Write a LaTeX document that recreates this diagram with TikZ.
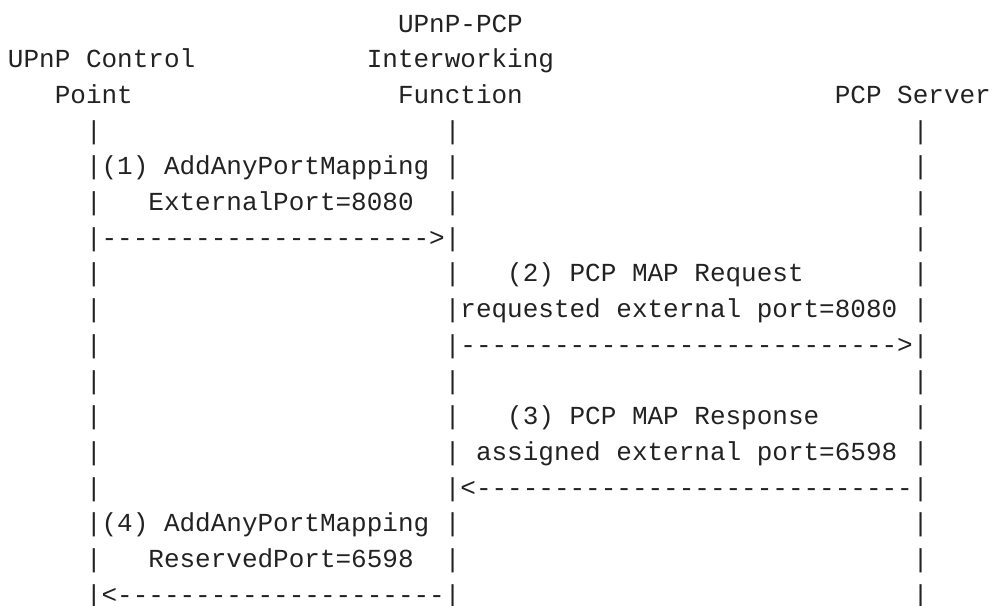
\documentclass[tikz,border=0pt]{standalone}
\usepackage{fontspec}
\setmonofont{Liberation Mono}
\definecolor{ink}{RGB}{34,34,34}
% one character cell: 15.6 wide, rows 35.67 apart (picture units are pt)
\newcommand\cellx[1]{8+#1*15.6}
\newcommand\celly[1]{-(32.3+(#1-1)*35.67)}
% \msg{name}{column}{row}{text}: a run of monospaced text placed on the grid
\newcommand\msg[4]{\node[glyphs] (#1) at ({\cellx{#2}},{\celly{#3}}) {#4};}
% \hyphens{n}: n hyphen characters in a row
\ExplSyntaxOn
\cs_new:Npn \hyphens #1 { \prg_replicate:nn {#1} {-} }
\ExplSyntaxOff
\begin{document}
\begin{tikzpicture}[x=1pt,y=1pt,
  glyphs/.style={anchor=base west,inner sep=0pt,outer sep=0pt,text=ink,
    font=\ttfamily\fontsize{26}{30}\selectfont}]
\useasboundingbox (0,0) rectangle (992,-605);
% participants
\msg{iwf1}{25}{1}{UPnP-PCP}
\msg{cp1}{0}{2}{UPnP Control}
\msg{iwf2}{23}{2}{Interworking}
\msg{cp2}{3}{3}{Point}
\msg{iwf3}{25}{3}{Function}
\msg{pcp}{53}{3}{PCP Server}
% lifelines, one bar per row
\foreach \r in {4,...,17}{
  \msg{cpbar\r}{5}{\r}{|}
  \msg{iwfbar\r}{28}{\r}{|}
  \msg{pcpbar\r}{58}{\r}{|}
}
% (1) control point -> interworking function
\msg{m1a}{6}{5}{(1) AddAnyPortMapping}
\msg{m1b}{9}{6}{ExternalPort=8080}
\msg{m1}{6}{7}{\hyphens{21}>}
% (2) interworking function -> PCP server
\msg{m2a}{32}{8}{(2) PCP MAP Request}
\msg{m2b}{29}{9}{requested external port=8080}
\msg{m2}{29}{10}{\hyphens{28}>}
% (3) PCP server -> interworking function
\msg{m3a}{32}{12}{(3) PCP MAP Response}
\msg{m3b}{30}{13}{assigned external port=6598}
\msg{m3}{29}{14}{<\hyphens{28}}
% (4) interworking function -> control point
\msg{m4a}{6}{15}{(4) AddAnyPortMapping}
\msg{m4b}{9}{16}{ReservedPort=6598}
\msg{m4}{6}{17}{<\hyphens{21}}
\end{tikzpicture}
\end{document}
